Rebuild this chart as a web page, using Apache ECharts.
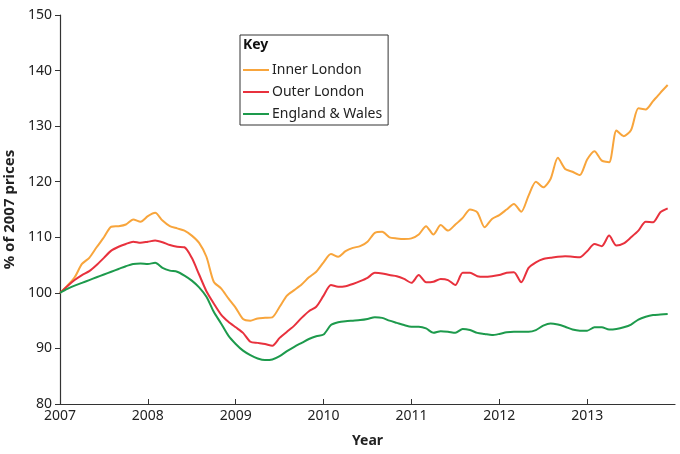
<!DOCTYPE html>
<html>
<head>
<meta charset="utf-8">
<script src="https://cdn.jsdelivr.net/npm/echarts@6/dist/echarts.min.js"></script>
<style>
  html, body { margin: 0; padding: 0; background: #fff; }
  #chart { width: 680px; height: 454px; }
</style>
</head>
<body>
<div id="chart"></div>
<script>
// monthly index values, Jan 2007 .. Dec 2013 (2007 = 100)
var startYear = 2007;
var yearTicks = [2007, 2008, 2009, 2010, 2011, 2012, 2013];

var innerLondon = [
    100, 101.3, 102.8, 105.2, 106.3, 108.2, 110, 111.9, 112, 112.3, 113.2, 112.8,
    113.8, 114.4, 113, 112, 111.6, 111.2, 110.3, 109, 106.5, 102, 100.8, 99,
    97.3, 95.3, 95, 95.4, 95.5, 95.6, 97.5, 99.5, 100.5, 101.5, 102.8, 103.8,
    105.5, 107, 106.5, 107.5, 108.1, 108.4, 109.2, 110.8, 111, 110, 109.8, 109.7,
    109.8, 110.5, 112, 110.5, 112.2, 111.2, 112.3, 113.5, 115, 114.5, 111.8, 113.3,
    114, 115, 116, 114.6, 117.5, 120, 119, 120.5, 124.3, 122.3, 121.8, 121.2,
    124, 125.5, 123.8, 123.5, 129.2, 128.2, 129.3, 133.2, 133, 134.5, 136, 137.4
];
var outerLondon = [
    100, 101.2, 102.3, 103.2, 103.9, 105, 106.3, 107.6, 108.3, 108.8, 109.2, 109,
    109.2, 109.4, 109.1, 108.6, 108.3, 108.2, 106.3, 103.3, 100.3, 98.1, 96.1, 94.8,
    93.8, 92.8, 91.2, 91, 90.8, 90.5, 91.9, 93, 94.1, 95.5, 96.7, 97.5,
    99.5, 101.4, 101.1, 101.2, 101.6, 102.1, 102.7, 103.6, 103.5, 103.2, 103, 102.5,
    101.8, 103.2, 101.9, 102, 102.5, 102.3, 101.4, 103.6, 103.6, 103, 102.9, 103,
    103.2, 103.6, 103.7, 101.9, 104.5, 105.5, 106.1, 106.3, 106.5, 106.6, 106.5, 106.4,
    107.5, 108.8, 108.4, 110.3, 108.5, 108.9, 110, 111.2, 112.8, 112.7, 114.5, 115.2
];
var englandWales = [
    100, 100.7, 101.3, 101.8, 102.3, 102.8, 103.3, 103.8, 104.3, 104.8, 105.2, 105.3,
    105.2, 105.4, 104.5, 104, 103.8, 103.1, 102.2, 101, 99.3, 96.6, 94.5, 92.3,
    90.8, 89.6, 88.8, 88.2, 87.9, 88, 88.6, 89.5, 90.3, 91, 91.7, 92.2,
    92.5, 94.2, 94.7, 94.9, 95, 95.1, 95.3, 95.6, 95.5, 95, 94.6, 94.2,
    93.9, 93.9, 93.6, 92.8, 93.1, 93, 92.8, 93.5, 93.3, 92.8, 92.6, 92.4,
    92.6, 92.9, 93, 93, 93, 93.3, 94.1, 94.5, 94.3, 93.9, 93.4, 93.2,
    93.2, 93.8, 93.8, 93.4, 93.5, 93.8, 94.3, 95.2, 95.7, 96, 96.1, 96.2
];

var FONT = "'Noto Sans', 'Open Sans', sans-serif";
var TXT = '#222';

function toPairs(arr) {
    return arr.map(function (v, i) { return [startYear + i / 12, v]; });
}

var dom = document.getElementById('chart');
var myChart = echarts.init(dom);

var option = {
    animation: false,
    textStyle: { fontFamily: FONT },
    grid: { left: 60, right: 5, top: 15, bottom: 50, containLabel: false, outerBoundsMode: 'none' },
    title: {
        text: 'Key',
        left: 243, top: 38,
        padding: 0,
        textStyle: { fontFamily: FONT, fontSize: 14, fontWeight: 'bold', color: '#111' }
    },
    legend: {
        left: 240, top: 35,
        orient: 'vertical',
        padding: [28, 6, 4, 3],
        borderColor: '#333', borderWidth: 1,
        itemWidth: 26, itemHeight: 2, itemGap: 8,
        icon: 'rect',
        textStyle: { fontFamily: FONT, fontSize: 14, color: TXT, padding: [0, 0, 0, -2] },
        data: ['Inner London', 'Outer London', 'England & Wales']
    },
    xAxis: {
        type: 'value',
        min: 2007, max: 2014, interval: 1,
        name: 'Year',
        nameLocation: 'middle',
        nameGap: 30,
        nameTextStyle: { fontFamily: FONT, fontSize: 14, fontWeight: 'bold', color: TXT },
        axisLine: { lineStyle: { color: '#333', width: 1.2 } },
        axisTick: { inside: true, length: 5, customValues: yearTicks, lineStyle: { color: '#333' } },
        axisLabel: {
            customValues: yearTicks, fontSize: 14, color: TXT, margin: 5, fontFamily: FONT,
            formatter: function (v) { return String(v); }
        },
        splitLine: { show: false }
    },
    yAxis: {
        type: 'value',
        min: 80, max: 150, interval: 10,
        name: '% of 2007 prices',
        nameLocation: 'middle',
        nameGap: 43,
        nameTextStyle: { fontFamily: FONT, fontSize: 15, fontWeight: 'bold', color: TXT },
        axisLine: { show: true, lineStyle: { color: '#333', width: 1.2 } },
        axisTick: { show: true, length: 5, lineStyle: { color: '#333' } },
        axisLabel: { fontSize: 14, color: TXT, margin: 8, fontFamily: FONT },
        splitLine: { show: false }
    },
    series: [
        {
            name: 'Inner London', type: 'line', data: toPairs(innerLondon),
            showSymbol: false, smooth: 0.25, color: '#f8a53c',
            lineStyle: { width: 2 }
        },
        {
            name: 'Outer London', type: 'line', data: toPairs(outerLondon),
            showSymbol: false, smooth: 0.25, color: '#e8313d',
            lineStyle: { width: 2 }
        },
        {
            name: 'England & Wales', type: 'line', data: toPairs(englandWales),
            showSymbol: false, smooth: 0.25, color: '#1d9a4c',
            lineStyle: { width: 2 }
        }
    ]
};

myChart.setOption(option);
</script>
</body>
</html>
